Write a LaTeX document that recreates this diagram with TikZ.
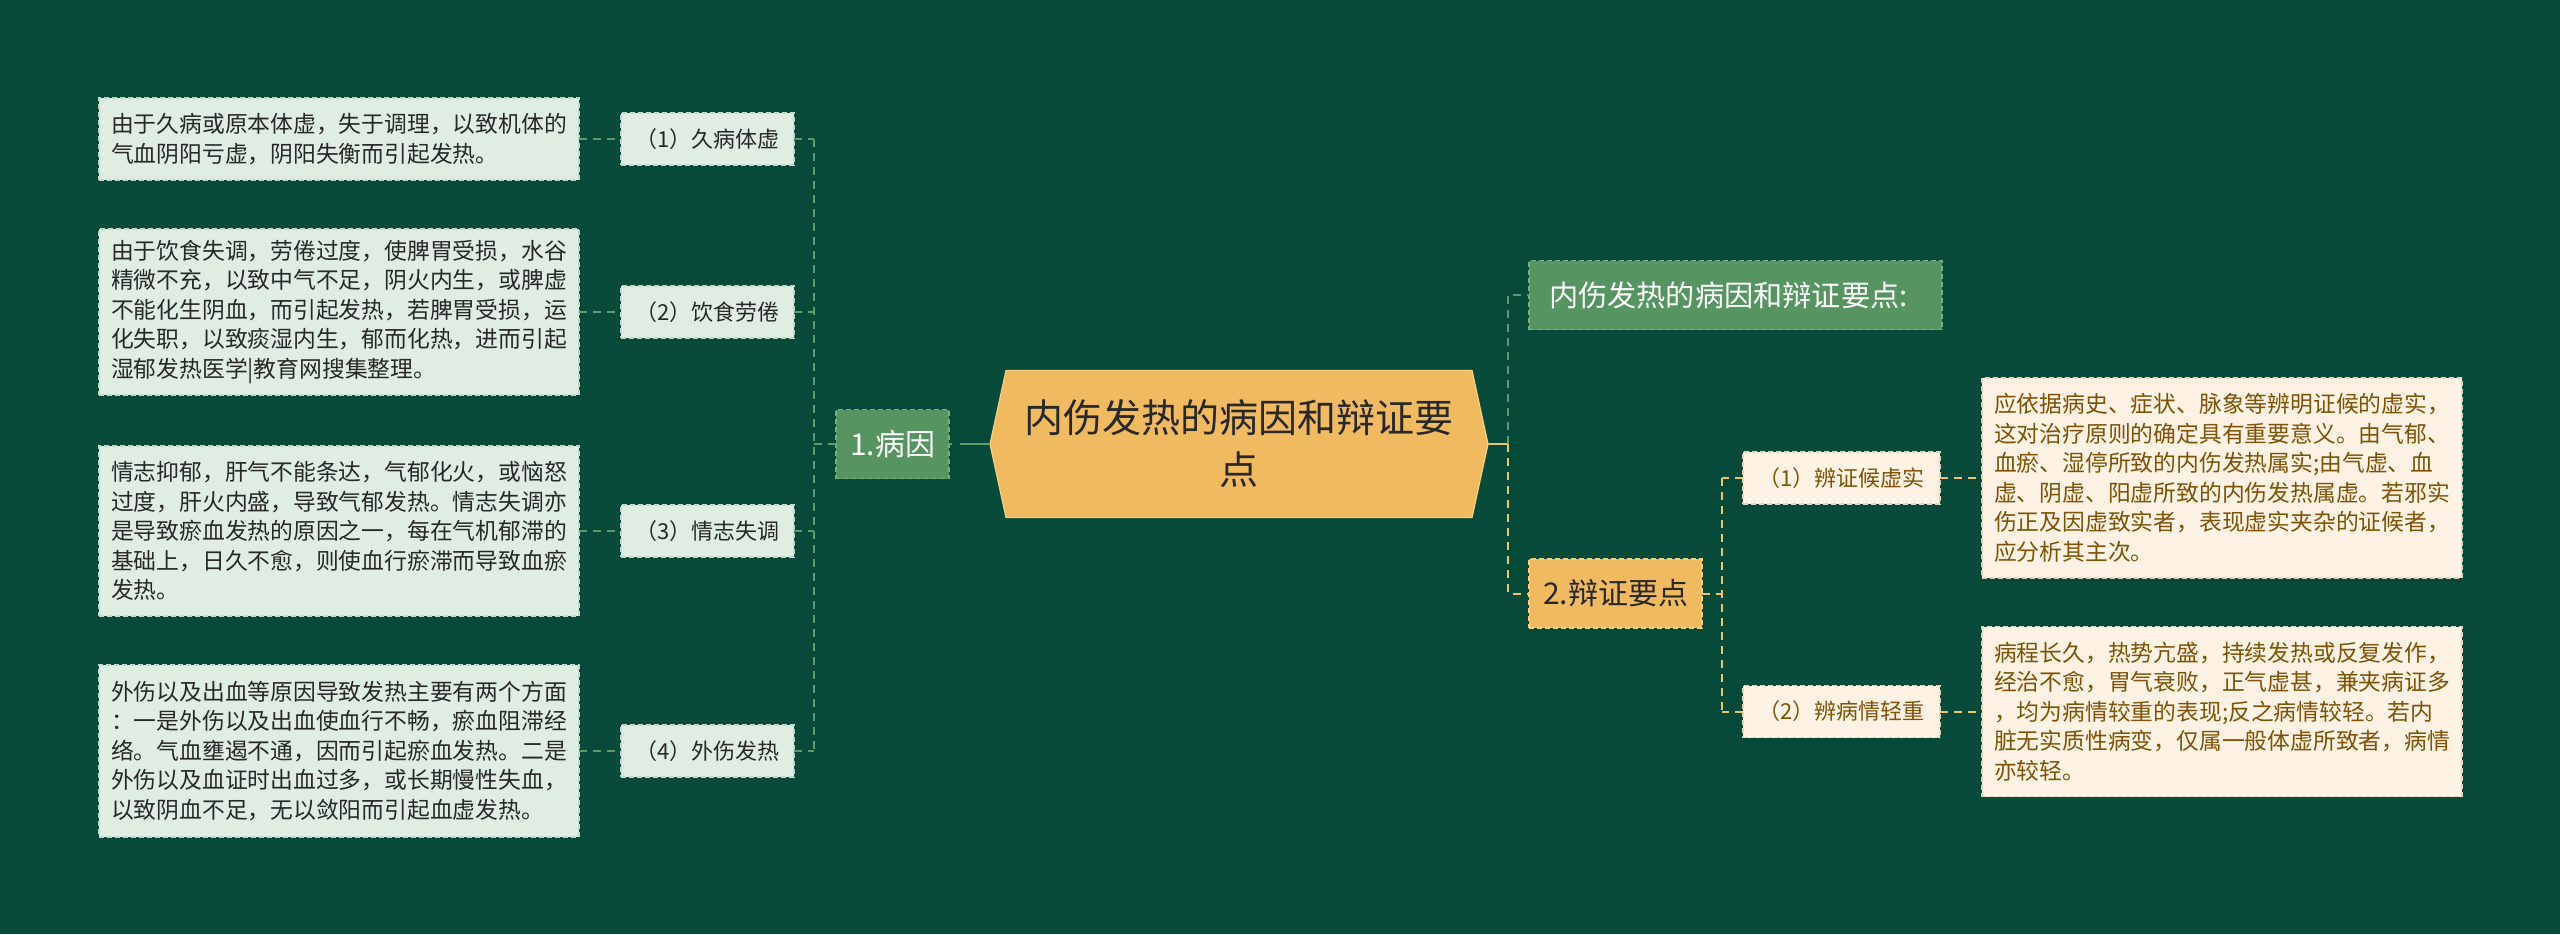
\documentclass[tikz,border=0pt]{standalone}
\usepackage{fontspec}
\setmainfont{Noto Sans CJK SC}
\usetikzlibrary{positioning}
\pgfdeclarelayer{bg}
\pgfsetlayers{bg,main}

\definecolor{bgGreen}{RGB}{8,74,57}
\definecolor{mintFill}{RGB}{223,237,227}
\definecolor{mintLine}{RGB}{196,216,202}
\definecolor{midGreen}{RGB}{86,148,97}
\definecolor{midGreenLine}{RGB}{120,174,130}
\definecolor{gold}{RGB}{240,186,96}
\definecolor{goldLine}{RGB}{250,206,128}
\definecolor{cream}{RGB}{253,242,227}
\definecolor{creamLine}{RGB}{226,212,190}
\definecolor{brownText}{RGB}{128,82,8}
\definecolor{darkText}{RGB}{40,40,40}
\definecolor{greenWire}{RGB}{92,156,106}
\definecolor{goldWire}{RGB}{233,197,110}

\tikzset{
	every node/.append style={
		inner sep=0pt,
		outer sep=0pt,
	},
	edgedash/.style={
		dash pattern=on 2.5pt off 1.5pt,
		line width=0.6pt,
	},
	rootbox/.style={
		align=center,
		text=darkText,
		minimum width=249pt,
		minimum height=73.5pt,
		font={\fontsize{19.5pt}{26pt}\selectfont}
	},
	greenbox/.style={
		edgedash,
		draw=midGreenLine,
		fill=midGreen,
		text=white,
		minimum height=34.5pt,
		font={\fontsize{15pt}{18pt}\selectfont}
	},
	goldbox/.style={
		edgedash,
		draw=goldLine,
		fill=gold,
		text=darkText,
		minimum height=34.5pt,
		font={\fontsize{15pt}{18pt}\selectfont}
	},
	leftleaf/.style={
		edgedash,
		draw=mintLine,
		fill=mintFill,
		text=darkText,
		minimum width=86.5pt,
		minimum height=26pt,
		font={\fontsize{11pt}{13pt}\selectfont}
	},
	rightleaf/.style={
		leftleaf,
		draw=creamLine,
		fill=cream,
		text=brownText,
		minimum width=98.5pt,
	},
	leftnote/.style={
		edgedash,
		draw=mintLine,
		fill=mintFill,
		text=darkText,
		align=left,
		text width=228pt,
		inner xsep=6pt,
		font={\fontsize{11.4pt}{14.75pt}\selectfont}
	},
	rightnote/.style={
		leftnote,
		draw=creamLine,
		fill=cream,
		text=brownText,
	},
	gwire/.style={
		draw=greenWire,
		line width=1pt,
		dash pattern=on 4pt off 3pt,
	},
	ywire/.style={
		gwire,
		draw=goldWire,
	},
}

\begin{document}
\begin{tikzpicture}[x=0.5pt, y=-0.5pt]

\node(root)[rootbox] at (1239,444) {内伤发热的病因和辩证要\\点};

% left side
\node(cause)[greenbox, minimum width=56.5pt, left = 20.5pt of root]{1.病因};

\node(lab1)[leftleaf, left = 21pt of cause, yshift=152.5pt]{（1）久病体虚};
\node(lab2)[leftleaf, left = 21pt of cause, yshift=66pt]{（2）饮食劳倦};
\node(lab3)[leftleaf, left = 21pt of cause, yshift=-43.5pt]{（3）情志失调};
\node(lab4)[leftleaf, left = 21pt of cause, yshift=-153.5pt]{（4）外伤发热};

\node(note1)[leftnote, minimum height=41pt, left = 21pt of lab1]{由于久病或原本体虚，失于调理，以致机体的\\气血阴阳亏虚，阴阳失衡而引起发热。};
\node(note2)[leftnote, minimum height=83pt, left = 21pt of lab2]{由于饮食失调，劳倦过度，使脾胃受损，水谷\\精微不充，以致中气不足，阴火内生，或脾虚\\不能化生阴血，而引起发热，若脾胃受损，运\\化失职，以致痰湿内生，郁而化热，进而引起\\湿郁发热医学|教育网搜集整理。};
\node(note3)[leftnote, minimum height=85pt, left = 21pt of lab3]{情志抑郁，肝气不能条达，气郁化火，或恼怒\\过度，肝火内盛，导致气郁发热。情志失调亦\\是导致瘀血发热的原因之一，每在气机郁滞的\\基础上，日久不愈，则使血行瘀滞而导致血瘀\\发热。};
\node(note4)[leftnote, minimum height=86pt, left = 21pt of lab4]{外伤以及出血等原因导致发热主要有两个方面\\：一是外伤以及出血使血行不畅，瘀血阻滞经\\络。气血壅遏不通，因而引起瘀血发热。二是\\外伤以及血证时出血过多，或长期慢性失血，\\以致阴血不足，无以敛阳而引起血虚发热。};

% right side
\node(defn)[greenbox, minimum width=206.5pt, align=left, text width=186.5pt, font={\fontsize{14.6pt}{18pt}\selectfont}, right = 20.5pt of root, yshift=74.5pt]{内伤发热的病因和辩证要点:};
\node(diag)[goldbox, minimum width=86.5pt, right = 20.5pt of root, yshift=-74.75pt]{2.辩证要点};

\node(rlab1)[rightleaf, right = 20.5pt of diag, yshift=57.75pt]{（1）辨证候虚实};
\node(rlab2)[rightleaf, right = 20.5pt of diag, yshift=-59pt]{（2）辨病情轻重};

\node(rnote1)[rightnote, minimum height=100pt, right = 21pt of rlab1]{应依据病史、症状、脉象等辨明证候的虚实，\\这对治疗原则的确定具有重要意义。由气郁、\\血瘀、湿停所致的内伤发热属实;由气虚、血\\虚、阴虚、阳虚所致的内伤发热属虚。若邪实\\伤正及因虚致实者，表现虚实夹杂的证候者，\\应分析其主次。};
\node(rnote2)[rightnote, minimum height=85pt, right = 21pt of rlab2]{病程长久，热势亢盛，持续发热或反复发作，\\经治不愈，胃气衰败，正气虚甚，兼夹病证多\\，均为病情较重的表现;反之病情较轻。若内\\脏无实质性病变，仅属一般体虚所致者，病情\\亦较轻。};

\begin{pgfonlayer}{bg}
\fill[bgGreen] (0,0) rectangle (2560,934);
\filldraw[fill=gold, draw=goldLine, line width=0.6pt] (root.west) -- ([xshift=8pt]root.north west) -- ([xshift=-8pt]root.north east) -- (root.east) -- ([xshift=-8pt]root.south east) -- ([xshift=8pt]root.south west) -- cycle;
\end{pgfonlayer}

% connectors
\coordinate(lj) at ([xshift=-11pt]cause.west);
\draw[gwire, dash pattern=on 15pt off 4pt] (root.west) -- (cause.east);
\draw[gwire] (cause.west) -- (lj);
\draw[gwire] (lab1.east -| lj) -- (lab4.east -| lj);
\foreach \ii in {1,...,4} {
	\draw[gwire] (lab\ii.east) -- (lab\ii.east -| lj);
	\draw[gwire] (note\ii.east) -- (lab\ii.west);
};

\coordinate(rj) at ([xshift=10pt]root.east);
\draw[draw=goldWire, line width=1pt] (root.east) -- (rj);
\draw[gwire] (rj) |- (defn.west);
\draw[ywire] (rj) |- (diag.west);

\coordinate(dj) at ([xshift=10pt]diag.east);
\draw[ywire] (diag.east) -- (dj);
\draw[ywire] (rlab1.west -| dj) -- (rlab2.west -| dj);
\foreach \ii in {1,2} {
	\draw[ywire] (rlab\ii.west) -- (rlab\ii.west -| dj);
	\draw[ywire] (rlab\ii.east) -- (rnote\ii.west);
};
\end{tikzpicture}
\end{document}
